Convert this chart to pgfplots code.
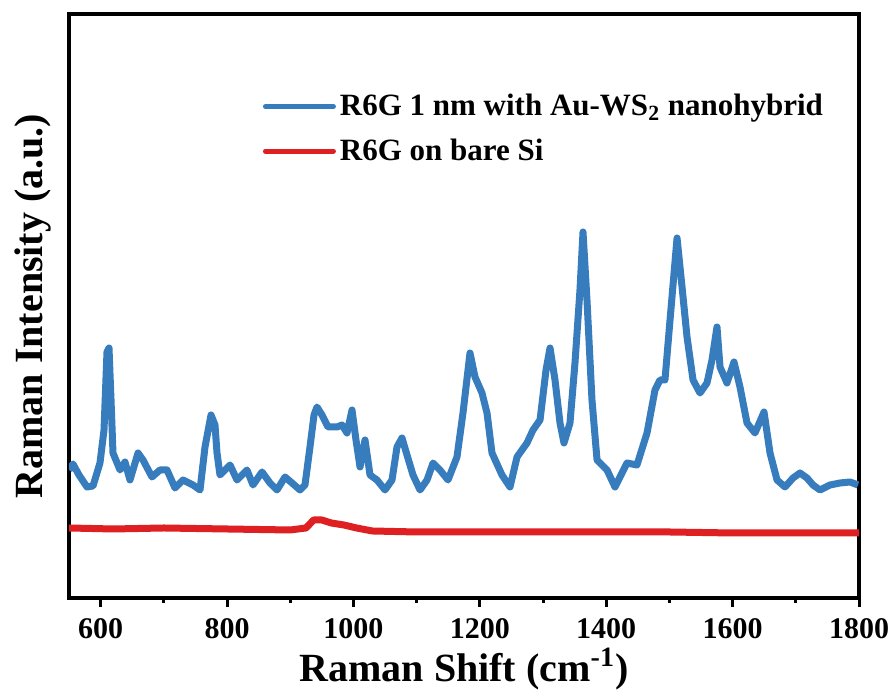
\documentclass[border=0pt]{standalone}
\usepackage{fontspec}
\setmainfont{Liberation Serif}
\usepackage{pgfplots}
\pgfplotsset{compat=1.18}

\definecolor{sersblue}{RGB}{55,125,190}
\definecolor{barered}{RGB}{222,32,34}

\begin{document}
\begin{tikzpicture}
\begin{axis}[
  scale only axis,
  width=395pt, height=292pt,
  xmin=550, xmax=1800,
  ymin=0, ymax=584,
  xtick={600,800,...,1800},
  minor x tick num=1,
  ytick=\empty,
  xtick pos=bottom,
  tick align=outside,
  major tick length=4.5pt,
  minor tick length=2.5pt,
  every tick/.style={black, line width=1.5pt},
  axis line style={line width=2pt},
  /pgf/number format/assume math mode=true,
  /pgf/number format/1000 sep={},
  xticklabel style={font=\fontsize{15}{15}\selectfont\bfseries, yshift=-2pt},
  xlabel={Raman Shift (cm\textsuperscript{-1})},
  ylabel={Raman Intensity (a.u.)},
  xlabel style={font=\fontsize{20}{20}\selectfont\bfseries,
    at={(axis description cs:0.5,-0.122)}, anchor=center},
  ylabel style={font=\fontsize{20}{20}\selectfont\bfseries,
    at={(axis description cs:-0.046,0.5)}, anchor=center},
  legend style={draw=none, fill=none, inner sep=0pt,
    at={(axis description cs:0.245,0.87)}, anchor=north west,
    font=\fontsize{15.5}{15.5}\selectfont\bfseries,
    row sep=6pt},
  legend cell align=left,
  legend image code/.code={\draw[line width=2.5pt, line cap=round] (0pt,0pt) -- (34pt,0pt);},
]
\addplot[sersblue, line width=3.5pt, line join=round] coordinates {
(550,128) (556.3,134) (565.8,123) (578.5,111) (588,112) (599,135)
(605.4,168) (610.1,246) (613.3,250) (616.5,198) (619.6,145) (630.7,128)
(638.6,136) (646.5,118) (659.2,145) (667.1,138) (681.3,121) (694,128)
(705.1,128) (717.7,110) (730.4,118) (746.2,113) (757.3,108) (765.2,151)
(774.7,183) (781,173) (784.2,145) (788.9,123) (804.8,133) (815.8,118)
(831.6,128) (841.1,113) (855.4,126) (868,115) (879.1,108) (891.8,121)
(902.9,115) (915.5,108) (923.4,113) (931.3,151) (937.7,183) (942.4,191)
(950.3,183) (959.8,171) (974.1,171) (982,173) (989.9,165) (997.8,188)
(1004.1,158) (1010.5,131) (1018.4,158) (1026.3,123) (1037.3,118) (1050,108)
(1061.1,118) (1069,151) (1076.9,160) (1084.8,143) (1094.3,123) (1105.4,108)
(1116.5,118) (1126,135) (1137,128) (1149.7,118) (1163.9,141) (1173.4,185)
(1184.5,245) (1192.4,221) (1203.5,205) (1211.4,185) (1219.3,145) (1235.1,123)
(1247.8,111) (1258.9,141) (1274.7,155) (1284.2,168) (1295.3,178) (1304.8,228)
(1311.1,250) (1319,218) (1326.9,175) (1333.2,155) (1342.7,175) (1350.6,235)
(1358.5,308) (1363.3,366) (1369.6,298) (1377.5,198) (1385.5,138) (1401.3,128)
(1413.9,111) (1432.9,135) (1448.7,133) (1464.6,165) (1477.2,208) (1485.1,218)
(1493,218) (1501,278) (1512.1,360) (1520,311) (1527.9,261) (1537.4,218)
(1548.4,205) (1559.5,215) (1567.4,238) (1575.3,271) (1580.1,231) (1591.1,215)
(1602.2,236) (1611.7,211) (1622.8,175) (1635.4,165) (1649.7,186) (1659.2,145)
(1670.3,118) (1682.9,111) (1695.6,120) (1706.7,125) (1717.7,120) (1727.2,113)
(1738.3,108) (1754.1,113) (1770,115) (1785.8,116) (1798.4,113)
};
\addlegendentry{R6G 1 nm with Au-WS\textsubscript{2} nanohybrid}
\addplot[barered, line width=3.5pt, line join=round] coordinates {
(550,70) (620,69) (700,70) (800,69) (900,68) (925,70) (937,78) (950,78)
(965,75) (985,73) (1005,70) (1030,67) (1100,66) (1200,66) (1300,66)
(1400,66) (1500,66) (1600,65) (1700,65) (1800,65)
};
\addlegendentry{R6G on bare Si}
\end{axis}
\path ([xshift=-34.5pt,yshift=-50.5pt]current axis.south west)
  rectangle ([xshift=18.5pt,yshift=7pt]current axis.north east);
\end{tikzpicture}
\end{document}
